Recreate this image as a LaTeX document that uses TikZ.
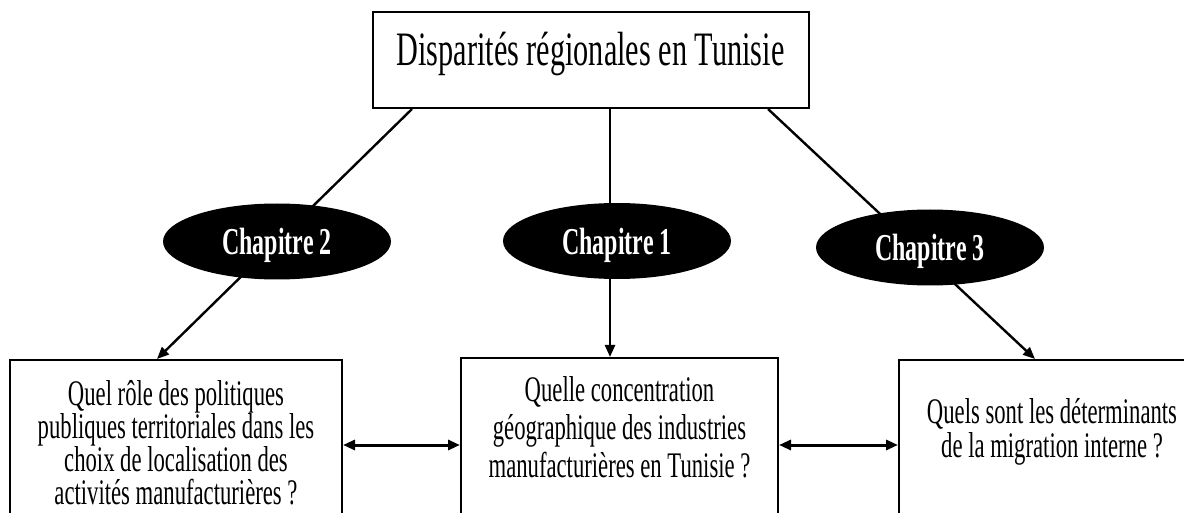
\documentclass[tikz,border=0pt]{standalone}
\usepackage{fontspec}
\setmainfont{Liberation Serif}[FakeStretch=0.63]
\usetikzlibrary{arrows.meta,backgrounds,shapes.geometric}
\begin{document}
\begin{tikzpicture}[x=0.5pt,y=-0.5pt,
  boxframe/.style={draw, line width=1pt, rectangle, inner sep=0pt, minimum height=100pt},
  chap/.style={ellipse, fill=black, draw=none, inner sep=0pt, minimum width=114pt, minimum height=38pt,
     text=white, font=\fontsize{19pt}{21pt}\selectfont\bfseries, text depth=0pt},
  qtext/.style={inner sep=0pt, align=center},
  link/.style={line width=1.2pt},
  arr/.style={line width=1.2pt, -{Triangle[length=6pt,width=5pt]}},
  dbl/.style={line width=1.5pt, {Triangle[length=6pt,width=5pt]}-{Triangle[length=6pt,width=5pt]}}
]
\useasboundingbox (0,0) rectangle (1184,513);
\clip (0,0) rectangle (1184,513);

% top box
\node[draw, line width=1pt, rectangle, inner sep=0pt, minimum width=218pt, minimum height=48pt] (top) at (591,60) {};
\node[inner sep=0pt, font=\fontsize{24pt}{28pt}\selectfont] (title) at (590.5,54) {Disparités régionales en Tunisie};

% chapter ellipses
\node[chap] (c2) at (277,241.5) {Chapitre 2};
\node[chap] (c1) at (617,241) {Chapitre 1};
\node[chap] (c3) at (930,247.5) {Chapitre 3};

% bottom boxes
\node[boxframe, minimum width=166pt] (b1) at (176,460) {};
\node[boxframe, minimum width=158.5pt] (b2) at (619.5,458) {};
\node[boxframe, minimum width=153pt] (b3) at (1052,460) {};

\node[qtext, font=\fontsize{18pt}{16.5pt}\selectfont] (q1) at (176,443)
  {Quel rôle des politiques\\publiques territoriales dans les\\choix de localisation des\\activités manufacturières ?};
\node[qtext, font=\fontsize{18pt}{19pt}\selectfont] (q2) at (619.5,427)
  {Quelle concentration\\géographique des industries\\manufacturières en Tunisie ?};
\node[qtext, font=\fontsize{18pt}{17pt}\selectfont] (q3) at (1052,431.5)
  {Quels sont les déterminants\\de la migration interne ?};

% anchor columns / rows
\coordinate (xl1) at (412,0);
\coordinate (xl2) at (157,0);
\coordinate (xm) at (610,0);
\coordinate (xr1) at (768,0);
\coordinate (xr2) at (1035,0);
\coordinate (yh) at (0,445);

\begin{scope}[on background layer]
  \draw[arr] (top.south -| xl1) -- (b1.north -| xl2);
  \draw[arr] (top.south -| xm) -- (b2.north -| xm);
  \draw[arr] (top.south -| xr1) -- (b3.north -| xr2);
\end{scope}

\draw[dbl] (b1.east |- yh) -- (b2.west |- yh);
\draw[dbl] (b2.east |- yh) -- (b3.west |- yh);
\end{tikzpicture}
\end{document}
